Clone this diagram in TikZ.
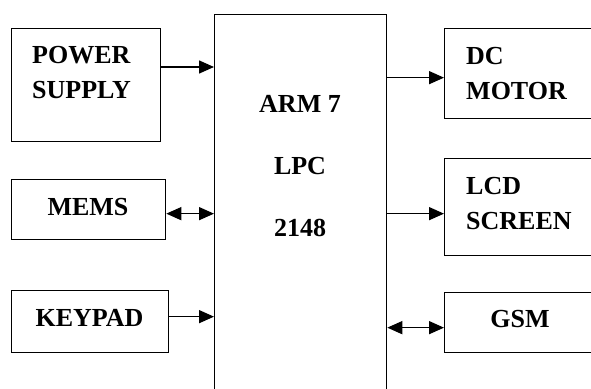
\documentclass[tikz,border=0pt]{standalone}
\usepackage{fontspec}
\setmainfont{Liberation Serif}
\usetikzlibrary{arrows.meta}

\tikzset{
  blk/.style={draw, line width=1.3pt, inner sep=0pt, anchor=north west},
  lbl/.style={font=\fontsize{26}{35}\selectfont\bfseries, inner sep=0pt},
  arr/.style={line width=1.5pt, -{Triangle[length=15pt,width=13pt]}},
  darr/.style={line width=1.5pt, {Triangle[length=15pt,width=13pt]}-{Triangle[length=15pt,width=13pt]}}
}

\begin{document}
\begin{tikzpicture}[x=1pt,y=-1pt]

\useasboundingbox (0,0) rectangle (591,388);

% ARM controller
\node[blk, minimum width=172, minimum height=390] (arm) at (214,14) {};
\node at (300,95) [lbl, anchor=north, align=center, font=\fontsize{26}{62}\selectfont\bfseries] (armtxt) {ARM 7\\LPC\\2148};

% left blocks
\node[blk, minimum width=149, minimum height=113] (ps) at (11,28) {};
\node at (32,46) [lbl, anchor=north west, align=left] (pstxt) {POWER\\SUPPLY};

\node[blk, minimum width=154, minimum height=60] (mems) at (11,179) {};
\node at (88,215) [lbl, anchor=base] (memstxt) {MEMS};

\node[blk, minimum width=157, minimum height=62] (key) at (11,290) {};
\node at (89.5,326) [lbl, anchor=base] (keytxt) {KEYPAD};

% right blocks
\node[blk, minimum width=160, minimum height=90] (dc) at (444,28) {};
\node at (466,47) [lbl, anchor=north west, align=left] (dctxt) {DC\\MOTOR};

\node[blk, minimum width=160, minimum height=97] (lcd) at (444,158) {};
\node at (466,177) [lbl, anchor=north west, align=left] (lcdtxt) {LCD\\SCREEN};

\node[blk, minimum width=160, minimum height=60] (gsm) at (444,292) {};
\node at (520,327) [lbl, anchor=base] (gsmtxt) {GSM};

% connections
\draw[arr] ([yshift=-39pt]ps.north east) -- ([yshift=-39pt]ps.north east -| arm.west);
\draw[darr] ([yshift=-4pt]mems.east) -- ([yshift=-4pt]mems.east -| arm.west);
\draw[arr] ([yshift=5pt]key.east) -- ([yshift=5pt]key.east -| arm.west);

\draw[arr] ([yshift=-4pt]dc.west -| arm.east) -- ([yshift=-4pt]dc.west);
\draw[arr] ([yshift=-6.5pt]lcd.west -| arm.east) -- ([yshift=-6.5pt]lcd.west);
\draw[darr] ([yshift=-5pt]gsm.west -| arm.east) -- ([yshift=-5pt]gsm.west);

\end{tikzpicture}
\end{document}
